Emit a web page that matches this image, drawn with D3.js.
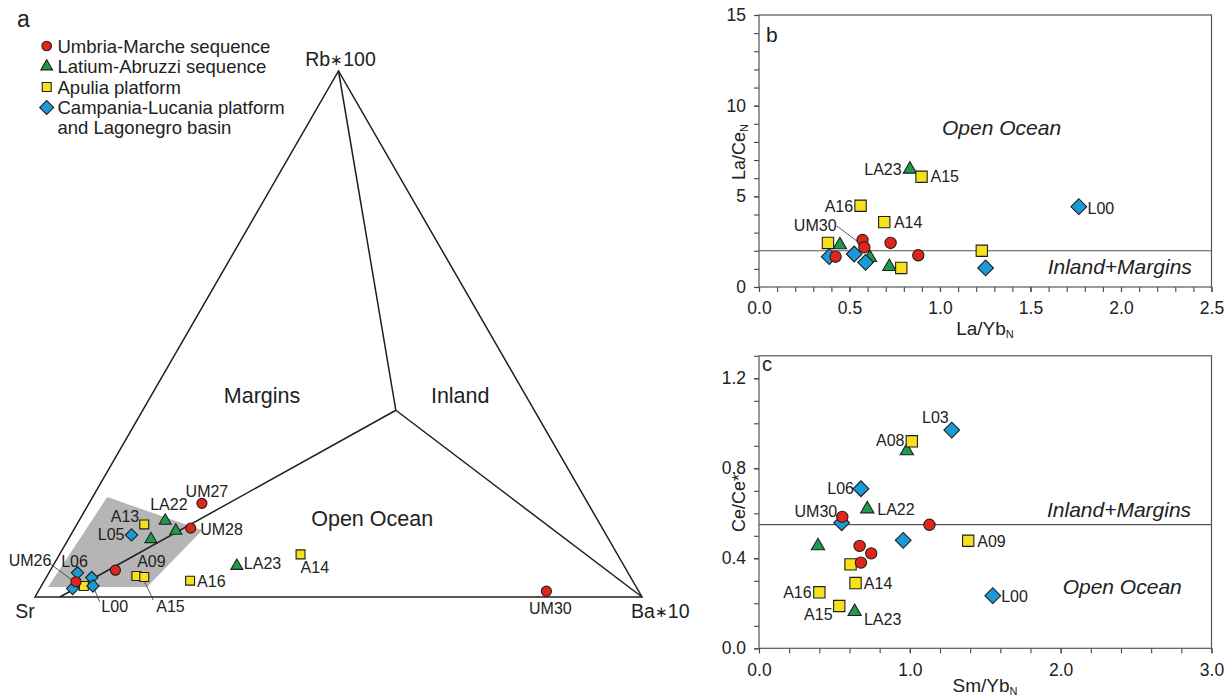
<!DOCTYPE html>
<html>
<head>
<meta charset="utf-8">
<script src="https://cdn.jsdelivr.net/npm/d3@7"></script>
<style>
  body { margin: 0; background: #fff; }
  svg { font-family: "Liberation Sans", Arial, sans-serif; }
</style>
</head>
<body>
<div id="chart"></div>
<script>
// ---------- data ----------
var groupKeys = ["UM", "LA", "AP", "CL"];
var legendLabels = [["Umbria-Marche sequence"], ["Latium-Abruzzi sequence"], ["Apulia platform"],
    ["Campania-Lucania platform", "and Lagonegro basin"]];

// ternary (a): [Sr, Ba*10, Rb*100] in %, label
var ternUM = [[63.6, 18.6, 17.8, "UM27"], [67.8, 19.1, 13.1, "UM28"], [84.2, 10.7, 5.1, ""],
    [91.8, 5.3, 2.9, "UM26"], [15.2, 83.7, 1.1, "UM30"]];
var ternLA = [[71.3, 14.2, 14.5, "LA22"], [70.5, 16.9, 12.6, ""], [75.4, 13.6, 11.0, ""], [63.8, 30.3, 5.9, "LA23"]];
var ternAP = [[75.1, 11.1, 13.8, "A13"], [81.3, 14.7, 4.0, "A09"], [80.1, 16.1, 3.8, "A15"],
    [72.9, 24.0, 3.1, "A16"], [52.2, 39.7, 8.1, "A14"], [90.9, 7.0, 2.1, ""]];
var ternCL = [[78.2, 10.0, 11.8, "L05"], [90.7, 4.7, 4.6, "L06"], [88.8, 7.5, 3.7, ""],
    [93.0, 5.4, 1.6, ""], [89.4, 8.5, 2.1, "L00"]];
// field boundaries: inner junction and the point where the Sr line meets the base
var fieldJunction = [22.8, 41.7, 35.5];
var fieldBaseEnd = [95.9, 4.1, 0];
var shadedField = [[96.9, 1.2, 1.9], [78.6, 2.4, 19.0], [66.1, 21.2, 12.7], [80.6, 17.5, 1.9]];

// panel b: [La/Yb_N, La/Ce_N, label]
var bUM = [[0.572, 2.59, "UM30"], [0.582, 2.19, ""], [0.727, 2.43, ""], [0.880, 1.75, ""], [0.423, 1.67, ""]];
var bLA = [[0.834, 6.49, "LA23"], [0.447, 2.32, ""], [0.613, 1.62, ""], [0.720, 1.12, ""]];
var bAP = [[0.898, 6.08, "A15"], [0.561, 4.48, "A16"], [0.692, 3.58, "A14"], [0.381, 2.43, ""],
    [0.786, 1.05, ""], [1.231, 2.0, ""]];
var bCL = [[1.767, 4.43, "L00"], [0.388, 1.67, ""], [0.526, 1.82, ""], [0.589, 1.36, ""], [1.252, 1.05, ""]];
var bLimit = 2;

// panel c: [Sm/Yb_N, Ce/Ce*, label]
var cUM = [[0.552, 0.584, "UM30"], [1.130, 0.549, ""], [0.667, 0.455, ""], [0.744, 0.422, ""], [0.676, 0.381, ""]];
var cLA = [[0.980, 0.877, ""], [0.718, 0.619, "LA22"], [0.391, 0.455, ""], [0.634, 0.163, "LA23"]];
var cAP = [[1.013, 0.920, "A08"], [1.387, 0.478, "A09"], [0.607, 0.373, ""], [0.640, 0.290, "A14"],
    [0.400, 0.249, "A16"], [0.532, 0.188, "A15"]];
var cCL = [[1.278, 0.970, "L03"], [0.676, 0.709, "L06"], [0.548, 0.558, ""], [0.956, 0.480, ""], [1.550, 0.234, "L00"]];
var cLimit = 0.55;

var bXTicks = [0, 0.5, 1, 1.5, 2, 2.5], bYTicks = [0, 5, 10, 15];
var cXTicks = [0, 1, 2, 3], cYTicks = [0, 0.4, 0.8, 1.2];

// ---------- styles ----------
var colors = {UM: "#e1251b", LA: "#1e9b4a", AP: "#f7e11c", CL: "#1b9bd5"};
var shapes = {UM: d3.symbolCircle, LA: d3.symbolTriangle, AP: d3.symbolSquare, CL: d3.symbolSquare};
var sizeA = {UM: 80, LA: 62, AP: 80, CL: 76};
var sizeBC = {UM: 100, LA: 76, AP: 128, CL: 124};
var sizeLegend = {UM: 72, LA: 60, AP: 80, CL: 98};
var ink = "#1f1f1f";

// label placement (baseline offsets from the point)
var placeA = {
    UM27: {dx: 5, dy: -6.5, a: "middle"}, UM28: {dx: 9.5, dy: 6.7, a: "start"},
    LA22: {dx: 3.7, dy: -10.5, a: "middle"}, A13: {dx: -5, dy: -2.6, a: "end"},
    L05: {dx: -7, dy: 5, a: "end"}, A09: {dx: 15, dy: -9, a: "middle"},
    A15: {dx: 12, dy: 35, a: "start", lead: [0, 4, 9, 23]}, A16: {dx: 7, dy: 6.6, a: "start"},
    LA23: {dx: 7, dy: 3.3, a: "start"}, A14: {dx: 0, dy: 18.5, a: "start"},
    UM30: {dx: 4, dy: 22.5, a: "middle"}, L06: {dx: -3, dy: -6, a: "middle"},
    UM26: {dx: -46, dy: -16, a: "middle", lead: [-26, -18, -3, -1]},
    L00: {dx: 8.4, dy: 25.7, a: "start", lead: [1.7, 4, 6.7, 16]}
};
var placeB = {
    LA23: {dx: -8.3, dy: 5.7, a: "end"}, A15: {dx: 9, dy: 5.6, a: "start"},
    A16: {dx: -7.4, dy: 6, a: "end"}, L00: {dx: 8.7, dy: 7.6, a: "start"},
    A14: {dx: 9.7, dy: 6.3, a: "start"}, UM30: {dx: -26, dy: -9.3, a: "end", lead: [-26, -14.3, -3.4, 2.7]}
};
var placeC = {
    L03: {dx: -3, dy: -7.3, a: "end"}, A08: {dx: -7.3, dy: 4.4, a: "end"},
    L06: {dx: -7, dy: 5.6, a: "end"}, LA22: {dx: 10, dy: 6, a: "start"},
    UM30: {dx: -5, dy: -0.3, a: "end"}, A09: {dx: 9, dy: 6, a: "start"},
    A14: {dx: 8.3, dy: 6.3, a: "start"}, A16: {dx: -7.7, dy: 6, a: "end"},
    L00: {dx: 8.4, dy: 6, a: "start"}, A15: {dx: -6.7, dy: 14, a: "end"},
    LA23: {dx: 9.3, dy: 13.3, a: "start"}
};

var svg = d3.select("#chart").append("svg").attr("width", 1226).attr("height", 698);

function symbolPath(key, size) {
    return d3.symbol().type(shapes[key]).size(size)();
}

// draws points of several groups, order = drawing order
function drawPoints(g, sets, proj, sizes) {
    sets.forEach(function(s) {
        g.selectAll(null).data(s.data).enter().append("path")
            .attr("d", symbolPath(s.key, sizes[s.key]))
            .attr("transform", function(d) {
                var p = proj(d);
                return "translate(" + p[0] + "," + p[1] + ")" + (s.key === "CL" ? "rotate(45)" : "");
            })
            .style("fill", colors[s.key])
            .style("stroke", ink)
            .style("stroke-width", 1.1);
    });
}

function drawLabels(g, sets, proj, place, leadersOnly) {
    sets.forEach(function(s) {
        s.data.forEach(function(d) {
            var id = d[d.length - 1];
            if (!id || !place[id]) return;
            var p = proj(d), o = place[id];
            if (leadersOnly) {
                if (o.lead) {
                    g.append("line")
                        .attr("x1", p[0] + o.lead[0]).attr("y1", p[1] + o.lead[1])
                        .attr("x2", p[0] + o.lead[2]).attr("y2", p[1] + o.lead[3])
                        .style("stroke", "#333").style("stroke-width", 0.8);
                }
                return;
            }
            g.append("text")
                .attr("x", p[0] + o.dx).attr("y", p[1] + o.dy)
                .attr("text-anchor", o.a)
                .style("font-size", "16px").style("fill", "#222")
                .text(id);
        });
    });
}

// ---------- panel a: ternary ----------
var ga = svg.append("g");
var tx = d3.scaleLinear().domain([0, 1]).range([35, 642]);
var ty = d3.scaleLinear().domain([0, 1]).range([597, 71]);
function tern(d) {
    var s = d[0] + d[1] + d[2];
    var ba = d[1] / s, rb = d[2] / s;
    return [tx(ba + rb / 2), ty(rb)];
}
var line = d3.line();

ga.append("path")
    .attr("d", line(shadedField.map(tern)) + "Z")
    .style("fill", "#b5b5b5");

var vSr = tern([100, 0, 0]), vBa = tern([0, 100, 0]), vRb = tern([0, 0, 100]);
ga.append("path")
    .attr("d", line([vSr, vBa, vRb]) + "Z")
    .style("fill", "none").style("stroke", ink).style("stroke-width", 1.5);
[vRb, vBa, tern(fieldBaseEnd)].forEach(function(v) {
    ga.append("path")
        .attr("d", line([tern(fieldJunction), v]))
        .style("fill", "none").style("stroke", ink).style("stroke-width", 1.5);
});

var setsA = [{key: "LA", data: ternLA}, {key: "AP", data: ternAP}, {key: "CL", data: ternCL}, {key: "UM", data: ternUM}];
drawLabels(ga, setsA, tern, placeA, true);
drawPoints(ga, setsA, tern, sizeA);
drawLabels(ga, setsA, tern, placeA, false);

// vertex labels
ga.append("text").attr("x", vRb[0] + 2).attr("y", 66).attr("text-anchor", "middle")
    .style("font-size", "19.5px").style("fill", "#222")
    .html("Rb<tspan font-size='15px' dy='-1'>\u2217</tspan><tspan dy='1'>100</tspan>");
ga.append("text").attr("x", 25).attr("y", 618).attr("text-anchor", "middle")
    .style("font-size", "19.5px").style("fill", "#222").text("Sr");
ga.append("text").attr("x", 631).attr("y", 618).attr("text-anchor", "start")
    .style("font-size", "19.5px").style("fill", "#222")
    .html("Ba<tspan font-size='15px' dy='-1'>\u2217</tspan><tspan dy='1'>10</tspan>");

// field names
[["Margins", [44.2, 19.0, 36.8]], ["Inland", [11.5, 51.6, 36.9]], ["Open Ocean", [37.7, 48.8, 13.5]]]
    .forEach(function(f) {
        var p = tern(f[1]);
        ga.append("text").attr("x", p[0]).attr("y", p[1]).attr("text-anchor", "middle")
            .style("font-size", "21.5px").style("fill", "#222").text(f[0]);
    });

// panel letter and legend
ga.append("text").attr("x", 17).attr("y", 27).style("font-size", "23px").style("fill", "#222").text("a");
var legY = [46, 66.5, 87, 107.5];
groupKeys.forEach(function(k, i) {
    ga.append("path")
        .attr("d", symbolPath(k, sizeLegend[k]))
        .attr("transform", "translate(46.7," + legY[i] + ")" + (k === "CL" ? "rotate(45)" : ""))
        .style("fill", colors[k]).style("stroke", ink).style("stroke-width", 1.1);
    legendLabels[i].forEach(function(t, j) {
        ga.append("text").attr("x", 57.5).attr("y", legY[i] + 6.5 + j * 20.3)
            .style("font-size", "18.5px").style("fill", "#222").text(t);
    });
});

// ---------- scatter panels ----------
function scatterAxes(g, x, y, xMajor, xStep, yMajor, yStep, fx, fy, pad) {
    var x0 = x.range()[0], y0 = y.range()[0];
    var xd = x.domain(), yd = y.domain();
    var xMinor = d3.range(0, Math.round((xd[1] - xd[0]) / xStep) + 1).map(function(i) { return xd[0] + i * xStep; });
    var yMinor = d3.range(0, Math.round((yd[1] - yd[0]) / yStep) + 1).map(function(i) { return yd[0] + i * yStep; });

    var axes = [
        g.append("g").attr("transform", "translate(0," + y0 + ")")
            .call(d3.axisBottom(x).tickValues(xMinor).tickSize(5).tickSizeOuter(0).tickFormat("")),
        g.append("g").attr("transform", "translate(0," + y0 + ")")
            .call(d3.axisBottom(x).tickValues(xMajor).tickSize(5).tickSizeOuter(0).tickPadding(10).tickFormat(fx)),
        g.append("g").attr("transform", "translate(" + x0 + ",0)")
            .call(d3.axisLeft(y).tickValues(yMinor).tickSize(5).tickSizeOuter(0).tickFormat("")),
        g.append("g").attr("transform", "translate(" + x0 + ",0)")
            .call(d3.axisLeft(y).tickValues(yMajor).tickSize(5).tickSizeOuter(0).tickPadding(pad).tickFormat(fy))
    ];
    axes.forEach(function(a) {
        a.attr("font-family", null).attr("font-size", null);
        a.select(".domain").remove();
        a.selectAll(".tick line").style("stroke", "#444").style("stroke-width", 1.1);
        a.selectAll(".tick text").style("font-size", "17.5px").style("fill", "#222");
    });
    g.append("rect")
        .attr("x", x.range()[0]).attr("y", y.range()[1])
        .attr("width", x.range()[1] - x.range()[0]).attr("height", y.range()[0] - y.range()[1])
        .style("fill", "none").style("stroke", "#555").style("stroke-width", 1.2);
}

function hLine(g, x, y, v) {
    g.append("line")
        .attr("x1", x.range()[0]).attr("x2", x.range()[1])
        .attr("y1", y(v)).attr("y2", y(v))
        .style("stroke", "#555").style("stroke-width", 1.2);
}

function italicNote(g, x, y, t, xv, yv) {
    g.append("text").attr("x", x(xv)).attr("y", y(yv)).attr("text-anchor", "middle")
        .style("font-size", "21px").style("font-style", "italic").style("fill", "#222").text(t);
}

// panel b
var gb = svg.append("g");
var xb = d3.scaleLinear().domain([0, 2.5]).range([759, 1211.5]);
var yb = d3.scaleLinear().domain([0, 15]).range([287, 15]);
scatterAxes(gb, xb, yb, bXTicks, 0.1, bYTicks, 1, d3.format(".1f"), d3.format("d"), 8);
hLine(gb, xb, yb, bLimit);
italicNote(gb, xb, yb, "Open Ocean", 1.34, 8.4);
italicNote(gb, xb, yb, "Inland+Margins", 1.993, 0.72);
function projB(d) { return [xb(d[0]), yb(d[1])]; }
var setsB = [{key: "LA", data: bLA}, {key: "AP", data: bAP}, {key: "CL", data: bCL}, {key: "UM", data: bUM}];
drawLabels(gb, setsB, projB, placeB, true);
drawPoints(gb, setsB, projB, sizeBC);
drawLabels(gb, setsB, projB, placeB, false);
gb.append("text").attr("x", 766).attr("y", 41.5).style("font-size", "21px").style("fill", "#222").text("b");
gb.append("text").attr("x", 985).attr("y", 335).attr("text-anchor", "middle")
    .style("font-size", "19px").style("fill", "#222")
    .html("La/Yb<tspan font-size='11px' dy='3'>N</tspan>");
gb.append("text").attr("transform", "translate(745,152)rotate(-90)").attr("text-anchor", "middle")
    .style("font-size", "18px").style("fill", "#222")
    .html("La/Ce<tspan font-size='11px' dy='3'>N</tspan>");

// panel c
var gc = svg.append("g");
var xc = d3.scaleLinear().domain([0, 3]).range([759, 1211.5]);
var yc = d3.scaleLinear().domain([0, 1.3]).range([648.3, 355.8]);
scatterAxes(gc, xc, yc, cXTicks, 0.2, cYTicks, 0.1, d3.format(".1f"), d3.format(".1f"), 8);
hLine(gc, xc, yc, cLimit);
italicNote(gc, xc, yc, "Inland+Margins", 2.387, 0.584);
italicNote(gc, xc, yc, "Open Ocean", 2.408, 0.240);
function projC(d) { return [xc(d[0]), yc(d[1])]; }
var setsC = [{key: "LA", data: cLA}, {key: "AP", data: cAP}, {key: "CL", data: cCL}, {key: "UM", data: cUM}];
drawLabels(gc, setsC, projC, placeC, true);
drawPoints(gc, setsC, projC, sizeBC);
drawLabels(gc, setsC, projC, placeC, false);
gc.append("text").attr("x", 762).attr("y", 371).style("font-size", "20px").style("fill", "#222").text("c");
gc.append("text").attr("x", 985).attr("y", 692).attr("text-anchor", "middle")
    .style("font-size", "19px").style("fill", "#222")
    .html("Sm/Yb<tspan font-size='11px' dy='3'>N</tspan>");
gc.append("text").attr("transform", "translate(745,503)rotate(-90)").attr("text-anchor", "middle")
    .style("font-size", "18px").style("fill", "#222")
    .text("Ce/Ce*");
</script>
</body>
</html>
